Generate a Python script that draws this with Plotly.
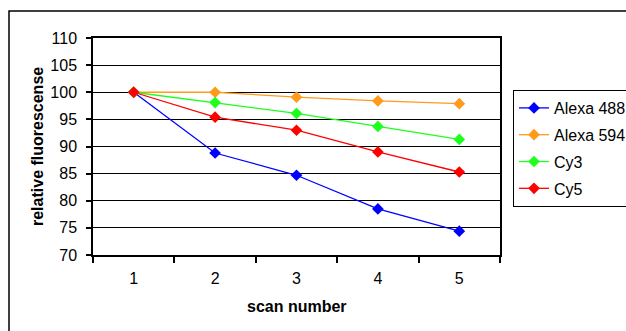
import plotly.graph_objects as go

scans = ["1", "2", "3", "4", "5"]
alexa488 = [100, 88.8, 84.7, 78.5, 74.4]
alexa594 = [100, 100, 99.1, 98.4, 97.9]
cy3 = [100, 98.1, 96.1, 93.7, 91.3]
cy5 = [100, 95.4, 93.0, 89.0, 85.3]
series_names = ["Alexa 488", "Alexa 594", "Cy3", "Cy5"]
series_colors = ["#0000FF", "#FF9A1A", "#1EFF1E", "#FF0000"]
y_ticks = [70, 75, 80, 85, 90, 95, 100, 105, 110]

W, H = 626, 331
L, R, T, B = 93, 500, 38, 255

fig = go.Figure()
for name, vals, col in zip(series_names, [alexa488, alexa594, cy3, cy5], series_colors):
    fig.add_trace(go.Scatter(
        x=scans, y=vals, name=name, mode="lines+markers", legendgroup=name,
        line=dict(color=col, width=1.3),
        marker=dict(symbol="diamond", size=9, color=col),
    ))

def px(x):
    return (x - L) / (R - L)

def py(y):
    return (B - y) / (B - T)

fig.update_layout(
    width=W, height=H,
    margin=dict(l=L, r=W - R, t=T, b=H - B, autoexpand=False),
    paper_bgcolor="white", plot_bgcolor="white",
    font=dict(family="Liberation Sans, Arial", size=15, color="black"),
    showlegend=True,
    legend=dict(
        x=px(513), y=py(90), xanchor="left", yanchor="top",
        bordercolor="black", borderwidth=1, bgcolor="white",
        font=dict(size=16), tracegroupgap=3, itemwidth=30,
        traceorder="grouped",
    ),
    xaxis=dict(
        type="category", range=[-0.5, 4.5], showline=True, linecolor="black", linewidth=1.5, mirror=True,
        ticks="outside", tickson="boundaries", ticklen=6, tickcolor="black", tickwidth=1.5,
        showgrid=False, tickfont=dict(size=16), ticklabelstandoff=8,
    ),
    yaxis=dict(
        range=[70, 110], tickvals=y_ticks, showline=True, linecolor="black", linewidth=1.5,
        mirror=True, ticks="outside", ticklen=5, tickcolor="black", tickwidth=1.5,
        showgrid=True, gridcolor="black", gridwidth=1.2, zeroline=False,
        tickfont=dict(size=16), ticklabelstandoff=6,
    ),
    shapes=[dict(type="rect", xref="paper", yref="paper",
                 x0=px(9), x1=px(640), y0=py(345), y1=py(11),
                 line=dict(color="black", width=1.5), fillcolor="rgba(0,0,0,0)", layer="below")],
    annotations=[
        dict(text="<b>scan number</b>", xref="paper", yref="paper", x=px(297), y=py(306),
             showarrow=False, font=dict(size=16), xanchor="center", yanchor="middle"),
        dict(text="<b>relative fluorescense</b>", xref="paper", yref="paper", x=px(37), y=py(147),
             showarrow=False, font=dict(size=16), textangle=-90, xanchor="center", yanchor="middle"),
    ],
)

fig.write_html("out.html")
